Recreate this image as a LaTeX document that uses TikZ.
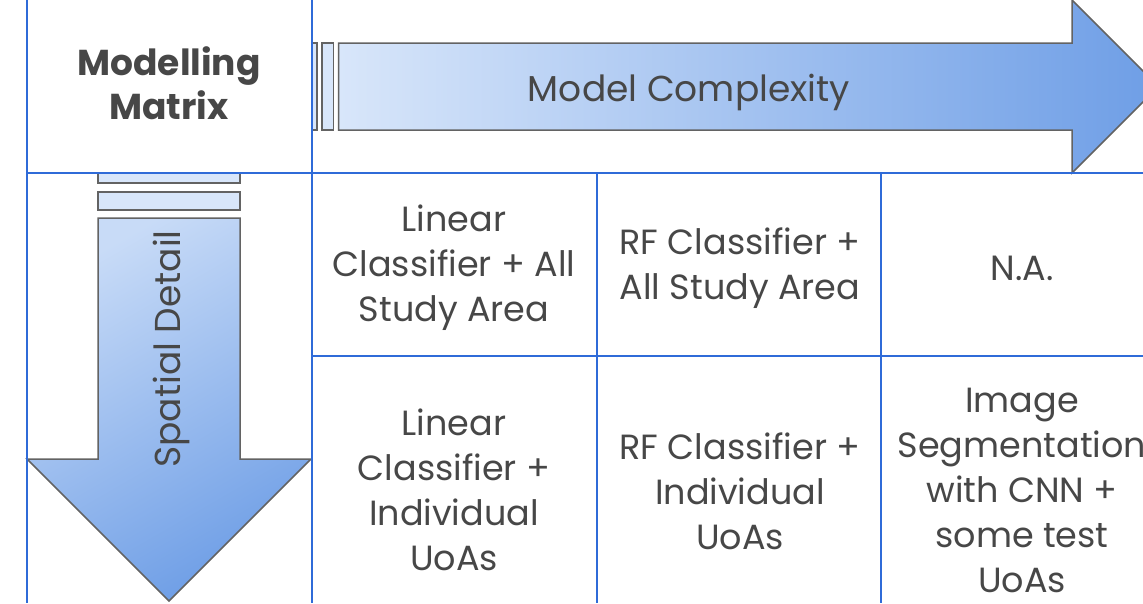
\documentclass[tikz,border=0pt]{standalone}
\usepackage{fontspec}
\setmainfont{Poppins}
\definecolor{gridblue}{HTML}{2F6BD8}
\definecolor{txt}{HTML}{474747}
\definecolor{arrlight}{HTML}{D8E6FA}
\definecolor{arrdark}{HTML}{6E9EE6}
\definecolor{arredge}{HTML}{636363}
\begin{document}
\begin{tikzpicture}[x=1pt,y=-1pt,
  gridline/.style={draw=gridblue,line width=2pt},
  arrowshape/.style={draw=arredge,line width=1.5pt,line join=miter},
  stripe/.style={draw=arredge,line width=1.5pt,fill=arrlight},
  celltext/.style={text=txt,align=center,inner sep=0pt,font=\fontsize{35}{45}\selectfont},
]
\useasboundingbox (0,0) rectangle (1143,603);
\clip (0,0) rectangle (1143,603);
% horizontal arrow
\draw[stripe] (312,43) rectangle (317,130);
\draw[stripe] (322,43) rectangle (333.5,130);
\draw[arrowshape,left color=arrlight,right color=arrdark]
  (338.5,43) -- (1072,43) -- (1072,0) -- (1158.5,86.5) -- (1072,173) -- (1072,130) -- (338.5,130) -- cycle;
% vertical arrow
\draw[stripe] (98,173) rectangle (240,183);
\draw[stripe] (98,192) rectangle (240,210);
\draw[arrowshape,top color=arrlight!85!arrdark,bottom color=arrdark,shading angle=30]
  (98,218) -- (240,218) -- (240,459) -- (311,459) -- (169,601) -- (27,459) -- (98,459) -- cycle;
% grid
\draw[gridline] (27,0) -- (27,603);
\draw[gridline] (312,0) -- (312,603);
\draw[gridline] (597,173) -- (597,603);
\draw[gridline] (881,173) -- (881,603);
\draw[gridline] (27,173) -- (1143,173);
\draw[gridline] (312,356) -- (1143,356);
% texts
\node[celltext,font=\fontsize{36}{44}\selectfont\bfseries] (title) at (169,83) {Modelling\\Matrix};
\node[celltext,font=\fontsize{36}{45}\selectfont] (mc) at (689,92) {Model Complexity};
\node[celltext,font=\fontsize{36}{45}\selectfont,rotate=90] (sd) at (171,349) {Spatial Detail};
\node[celltext] (c11) at (454,268) {Linear\\Classifier + All\\Study Area};
\node[celltext] (c12) at (740,268) {RF Classifier +\\All Study Area};
\node[celltext] (c13) at (1022,268) {N.A.};
\node[celltext] (c21) at (454,490) {Linear\\Classifier +\\Individual\\UoAs};
\node[celltext] (c22) at (740,491) {RF Classifier +\\Individual\\UoAs};
\node[celltext] (c23) at (1022,490) {Image\\Segmentation\\with CNN +\\some test\\UoAs};
\end{tikzpicture}
\end{document}
